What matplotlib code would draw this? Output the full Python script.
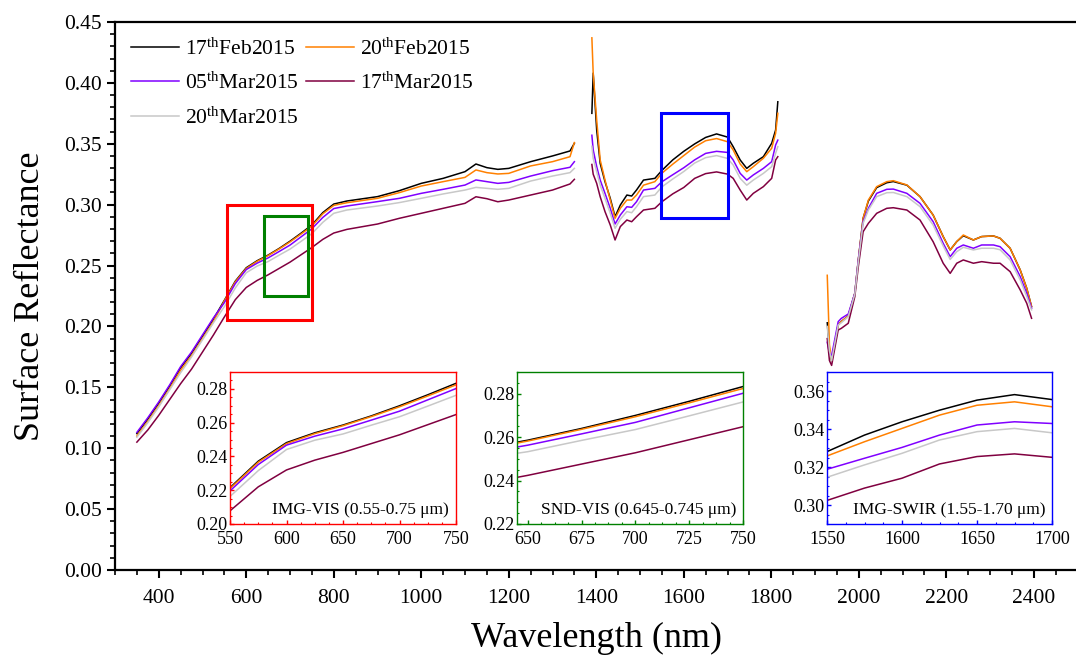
import numpy as np
import matplotlib
matplotlib.use('Agg')
import matplotlib.pyplot as plt
from matplotlib.patches import Rectangle
from matplotlib.ticker import MultipleLocator

plt.rcParams['font.family'] = ['Liberation Serif', 'DejaVu Serif']
plt.rcParams['mathtext.fontset'] = 'custom'
plt.rcParams['mathtext.rm'] = 'Liberation Serif'
plt.rcParams['mathtext.it'] = 'Liberation Serif:italic'

# wavelength (nm); None marks the removed water-absorption bands
wavelength = [350, 375, 400, 425, 450, 475, 500, 525, 550, 575, 600, 625, 650, 675, 700,
              725, 750, 775, 800, 830, 900, 950, 1000, 1050, 1100, 1125, 1150, 1175, 1200,
              1250, 1300, 1340, 1350,
              None,
              1390, 1393, 1401, 1409, 1420, 1432, 1443, 1455, 1470, 1481, 1492, 1508, 1534,
              1550, 1575, 1600, 1625, 1650, 1675, 1700, 1713, 1729, 1744, 1759, 1782, 1801,
              1810, 1815,
              None,
              1928, 1933, 1938, 1953, 1960, 1976, 1991, 1999, 2010, 2022, 2041, 2064, 2079,
              2110, 2140, 2170, 2193, 2209, 2224, 2239, 2262, 2281, 2308, 2323, 2346, 2369,
              2384, 2395]

feb17 = [.112, .124, .137, .151, .166, .178, .192, .206, .2215, .2372, .2482, .2540, .2586,
         .2640, .2700, .2765, .2833, .2935, .3005, .3030, .3066, .3115, .3175, .3216, .3271,
         .3334, .3304, .3290, .3298, .3353, .3400, .3441, .3504,
         None,
         .375, .408, .3613, .3339, .3189, .3052, .2901, .2997, .3079, .3071, .3120, .3202,
         .3216, .3281, .3368, .3438, .3499, .3552, .3581, .3555, .3476, .3367, .3298, .3340,
         .3394, .3504, .3613, .3845,
         None,
         .203, .180, .172, .2012, .2040, .2085, .2272, .2546, .2888, .3030, .3140, .3180,
         .3190, .3160, .3066, .2915, .2738, .2628, .2697, .2745, .2710, .2738, .2743, .2724,
         .2642, .2464, .2313, .2163]

feb20 = [.110, .122, .135, .149, .164, .176, .190, .204, .2210, .2366, .2476, .2535, .2582,
         .2636, .2694, .2758, .2824, .2925, .2994, .3016, .3052, .3099, .3153, .3189, .3224,
         .3285, .3263, .3252, .3257, .3318, .3353, .3394, .3510,
         None,
         .437, .408, .3695, .3367, .3202, .3038, .2888, .2970, .3038, .3038, .3079, .3160,
         .3189, .3258, .3333, .3403, .3473, .3525, .3543, .3517, .3449, .3334, .3271, .3312,
         .3381, .3463, .3586, .3750,
         None,
         .242, .185, .172, .2012, .2040, .2085, .2272, .2546, .2888, .3038, .3148, .3189,
         .3197, .3162, .3066, .2915, .2738, .2628, .2697, .2751, .2710, .2738, .2743, .2724,
         .2642, .2464, .2313, .2163]

mar05 = [.113, .125, .138, .152, .167, .179, .193, .207, .2196, .2352, .2467, .2520, .2563,
         .2615, .2668, .2735, .2802, .2895, .2968, .2989, .3025, .3052, .3093, .3126, .3161,
         .3203, .3189, .3175, .3183, .3235, .3279, .3307, .3353,
         None,
         .357, .345, .3313, .3202, .3093, .2970, .2841, .2915, .2983, .2978, .3024, .3120,
         .3134, .3188, .3246, .3303, .3368, .3421, .3438, .3429, .3367, .3257, .3202, .3244,
         .3298, .3353, .3490, .3530,
         None,
         .187, .178, .176, .2039, .2066, .2102, .2272, .2546, .2861, .2970, .3093, .3126,
         .3128, .3093, .3011, .2861, .2683, .2573, .2642, .2669, .2642, .2669, .2669, .2655,
         .2573, .2410, .2272, .2149]

mar17 = [.105, .115, .127, .140, .153, .165, .179, .193, .2078, .2220, .2320, .2378, .2424,
         .2476, .2528, .2588, .2648, .2715, .2767, .2797, .2841, .2888, .2929, .2970, .3011,
         .3065, .3049, .3024, .3038, .3079, .3120, .3170, .3208,
         None,
         .333, .325, .3175, .3065, .2943, .2833, .2710, .2820, .2874, .2860, .2901, .2956,
         .2970, .3024, .3089, .3141, .3216, .3255, .3269, .3251, .3216, .3120, .3038, .3093,
         .3148, .3216, .3367, .3394,
         None,
         .190, .172, .168, .1971, .1984, .2026, .2245, .2491, .2778, .2847, .2929, .2970,
         .2975, .2956, .2874, .2696, .2519, .2436, .2519, .2546, .2519, .2532, .2519, .2519,
         .2450, .2300, .2190, .2067]

mar20 = [.109, .121, .134, .148, .162, .175, .189, .203, .2163, .2316, .2441, .2496, .2533,
         .2585, .2635, .2698, .2762, .2855, .2929, .2956, .2989, .3017, .3052, .3088, .3120,
         .3142, .3134, .3126, .3134, .3194, .3235, .3263, .3298,
         None,
         .348, .338, .3271, .3160, .3052, .2929, .2806, .2880, .2943, .2934, .2983, .3066,
         .3079, .3146, .3211, .3272, .3342, .3386, .3403, .3380, .3326, .3216, .3160, .3202,
         .3257, .3312, .3422, .3476,
         None,
         .200, .180, .172, .2012, .2030, .2080, .2265, .2530, .2847, .2956, .3066, .3098,
         .3100, .3066, .2984, .2833, .2661, .2550, .2614, .2650, .2628, .2642, .2642, .2630,
         .2546, .2382, .2245, .2136]

labels = [r'17$^{\rm th}$Feb2015', r'20$^{\rm th}$Feb2015', r'05$^{\rm th}$Mar2015',
          r'17$^{\rm th}$Mar2015', r'20$^{\rm th}$Mar2015']
colors = ['#000000', '#FF8000', '#8000FF', '#800040', '#C8C8C8']


def arr(v):
    return np.array([np.nan if x is None else x for x in v], dtype=float)


wl = arr(wavelength)
series = [arr(s) for s in (feb17, feb20, mar05, mar17, mar20)]

fig = plt.figure(figsize=(10.76, 6.62), dpi=100)
ax = fig.add_axes([115 / 1076, 92 / 662, 962.5 / 1076, 548 / 662])

lines = []
for s, c, lab in zip(series, colors, labels):
    ln, = ax.plot(wl, s, c=c, lw=1.1, label=lab)
    lines.append(ln)

ax.set_xlim(300, 2500)
ax.set_ylim(0, 0.45)
ax.xaxis.set_major_locator(MultipleLocator(200))
ax.xaxis.set_minor_locator(MultipleLocator(50))
ax.yaxis.set_major_locator(MultipleLocator(0.05))
ax.yaxis.set_minor_locator(MultipleLocator(0.01))
ax.yaxis.set_major_formatter(lambda v, p: '%.2f' % v)
ax.tick_params(which='major', direction='out', length=6, width=1.5, labelsize=15.5)
ax.tick_params(which='minor', direction='out', length=3.5, width=1.2)
ax.tick_params(axis='x', pad=8)
for sp in ['left', 'bottom', 'top']:
    ax.spines[sp].set_linewidth(1.6)
ax.spines['right'].set_visible(False)

ax.set_xlabel('Wavelength (nm)', fontsize=26, labelpad=10)
ax.set_ylabel('Surface Reflectance', fontsize=26, labelpad=12)

# zoom boxes
ax.add_patch(Rectangle((555, 0.205), 195, 0.095, fill=False, ec='#FF0000', lw=2.2, zorder=5))
ax.add_patch(Rectangle((640, 0.225), 100, 0.066, fill=False, ec='#008000', lw=2.2, zorder=5))
ax.add_patch(Rectangle((1548, 0.289), 152, 0.086, fill=False, ec='#0000FF', lw=2.2, zorder=5))

order = [0, 2, 4, 1, 3]
ax.legend([lines[i] for i in order], [labels[i] for i in order], loc='upper left',
          ncol=2, frameon=False, fontsize=15.5, handlelength=2.2, handletextpad=0.3,
          columnspacing=0.35, labelspacing=0.62, borderaxespad=0.2, borderpad=0.55)


def inset(rect, xlim, ylim, xstep, xminor, ystep, yminor, color, text):
    a = fig.add_axes(rect)
    for s, c in zip(series, colors):
        a.plot(wl, s, c=c, lw=1.1)
    a.set_xlim(*xlim)
    a.set_ylim(*ylim)
    a.xaxis.set_major_locator(MultipleLocator(xstep))
    a.xaxis.set_minor_locator(MultipleLocator(xminor))
    a.yaxis.set_major_locator(MultipleLocator(ystep))
    a.yaxis.set_minor_locator(MultipleLocator(yminor))
    a.yaxis.set_major_formatter(lambda v, p: '%.2f' % v)
    a.tick_params(which='both', direction='in', color=color, labelsize=13, pad=2)
    a.tick_params(axis='x', pad=5)
    a.tick_params(which='major', length=3, width=1)
    a.tick_params(which='minor', length=1.5, width=0.8)
    for sp in a.spines.values():
        sp.set_edgecolor(color)
        sp.set_linewidth(1.0)
    a.text(0.97, 0.04, text, transform=a.transAxes, ha='right', va='bottom', fontsize=12.5)
    return a


inset([230 / 1076, 138 / 662, 226 / 1076, 152 / 662], (550, 750), (0.20, 0.29),
      50, 12.5, 0.02, 0.005, '#FF0000', 'IMG-VIS (0.55-0.75 μm)')
inset([517 / 1076, 138 / 662, 226 / 1076, 152 / 662], (645, 750), (0.22, 0.29),
      25, 6.25, 0.02, 0.005, '#008000', 'SND-VIS (0.645-0.745 μm)')
inset([827 / 1076, 138 / 662, 225 / 1076, 152 / 662], (1550, 1700), (0.29, 0.37),
      50, 12.5, 0.02, 0.005, '#0000FF', 'IMG-SWIR (1.55-1.70 μm)')

fig.savefig('out.png', dpi=100)
